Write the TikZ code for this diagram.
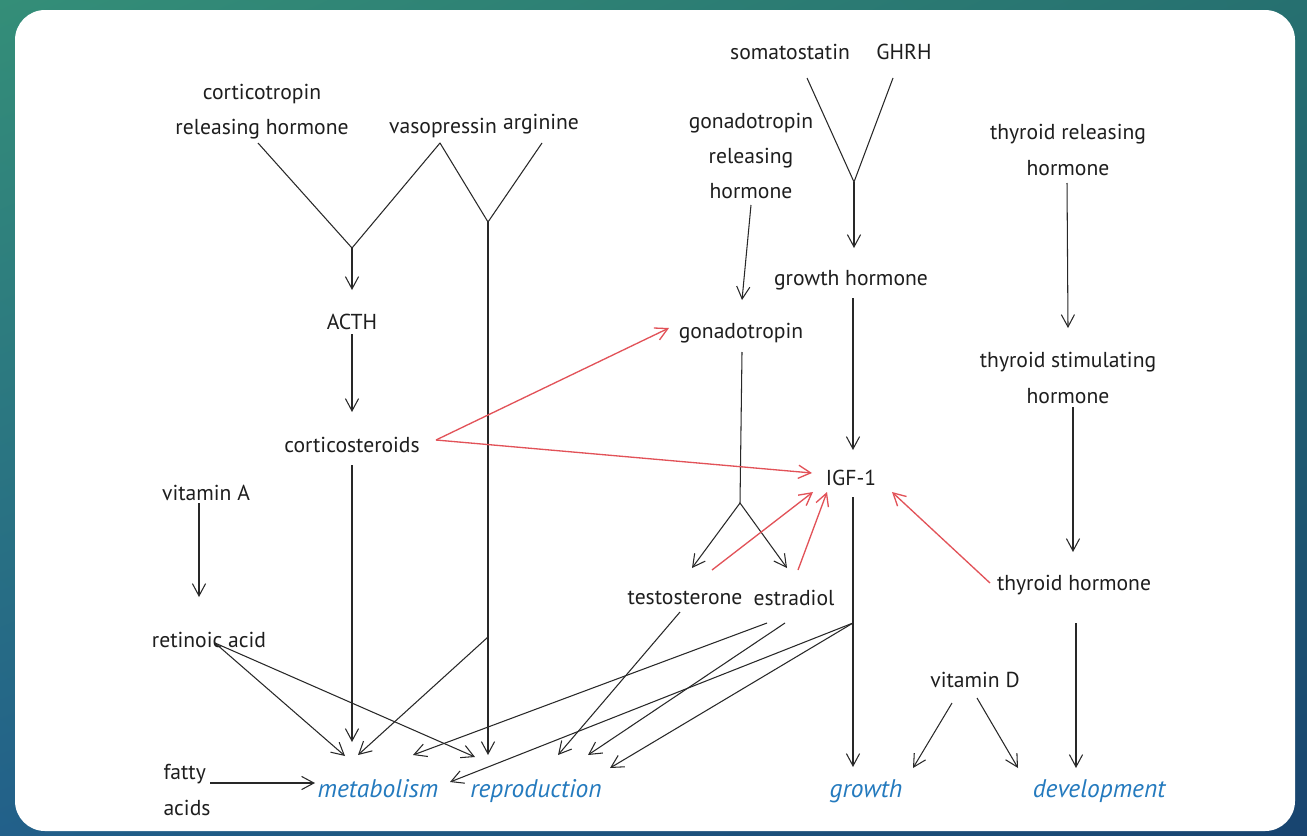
\documentclass[tikz,border=0pt]{standalone}
\usepackage{fontspec}
\setmainfont{PT Sans}
\usepackage{tikz}
\usetikzlibrary{arrows.meta,calc,shadings}
\definecolor{hbblack}{RGB}{30,30,30}
\definecolor{hbline}{RGB}{40,40,40}
\definecolor{hbred}{RGB}{226,82,88}
\definecolor{hbblue}{RGB}{36,122,190}
\definecolor{bgtl}{RGB}{52,142,120}
\definecolor{bgtr}{RGB}{38,112,112}
\definecolor{bgbl}{RGB}{34,96,138}
\definecolor{bgbr}{RGB}{24,68,112}
\tikzstyle{lbl} = [font=\fontsize{12.3}{20}\selectfont, text=hbblack, align=center, inner sep=1pt]
\tikzstyle{outcome} = [font=\fontsize{14.5}{16}\selectfont\itshape, text=hbblue, inner sep=0pt, text height=12pt, text depth=0.7pt]
\tikzstyle{link} = [draw=hbline, line width=0.6pt, line join=round]
\tikzstyle{arrow} = [link, ->, >={Straight Barb[length=7pt,width=7.5pt]}]
\tikzstyle{redarrow} = [arrow, draw=hbred, line width=0.75pt]

\begin{document}
\begin{tikzpicture}[x=0.02cm, y=-0.02cm]
\useasboundingbox (0,0) rectangle (1307,835);
% Backdrop and panel
\shade[upper left=bgtl, upper right=bgtr, lower left=bgbl, lower right=bgbr] (0,0) rectangle (1307,835);
\fill[white, rounded corners=0.6cm] (15,10) rectangle (1295,831);

% Hormones
\node[lbl] (crh) at (262,112) {corticotropin\\releasing hormone};
\node[lbl] (vaso) at (443,128) {vasopressin};
\node[lbl] (arg) at (541,124) {arginine};
\node[lbl] (somato) at (790,52) {somatostatin};
\node[lbl] (ghrh) at (904,52) {GHRH};
\node[lbl] (gnrh) at (751,156) {gonadotropin\\releasing\\hormone};
\node[lbl] (trh) at (1068,150) {thyroid releasing\\hormone};
\node[lbl] (acth) at (352,322) {ACTH};
\node[lbl] (gh) at (851,280) {growth hormone};
\node[lbl] (gonad) at (741,333) {gonadotropin};
\node[lbl] (tsh) at (1068,378) {thyroid stimulating\\hormone};
\node[lbl] (cort) at (352,445) {corticosteroids};
\node[lbl] (igf) at (851,478) {IGF-1};
\node[lbl] (vitA) at (206,493) {vitamin A};
\node[lbl] (testo) at (685,598) {testosterone};
\node[lbl] (estr) at (794,598) {estradiol};
\node[lbl] (th) at (1074,585) {thyroid hormone};
\node[lbl] (retin) at (209,640) {retinoic acid};
\node[lbl] (vitD) at (975,680) {vitamin D};
\node[lbl, align=left] (fatty) at (187,790) {fatty\\acids};

% Outcomes
\node[outcome] (metab) at (378,788) {metabolism};
\node[outcome] (repro) at (536,788) {reproduction};
\node[outcome] (growth) at (866,788) {growth};
\node[outcome] (devel) at (1099,788) {development};

% Junctions
\coordinate (vCRH) at (352,248);
\coordinate (vVA) at (488,222);
\coordinate (vGH) at (854,182);
\coordinate (vGN) at (740,503);
\coordinate (brVA) at (488,637);
\coordinate (brIGF) at (853,623);

% Left pathways
\draw[link] ($(crh)+(-4,31)$) -- (vCRH) -- ($(vaso)+(-3,15)$) -- (vVA) -- ($(arg)+(1,19)$);
\draw[arrow] (vCRH) -- ($(acth)+(0,-32)$);
\draw[arrow] ($(acth)+(0,12)$) -- ($(cort)+(0,-33)$);
\draw[arrow] ($(cort)+(0,20)$) -- ($(metab)+(-26,-46)$);
\draw[arrow] (vVA) -- ($(repro)+(-48,-33)$);
\draw[arrow] (brVA) -- ($(metab)+(-20,-33)$);
\draw[arrow] ($(vitA)+(-7,10)$) -- ($(retin)+(-10,-43)$);
\draw[arrow] ($(retin)+(6,3)$) -- ($(metab)+(-33,-32)$);
\draw[arrow] ($(retin)+(6,3)$) -- ($(repro)+(-61,-31)$);
\draw[arrow] ($(fatty)+(23,-7)$) -- ($(metab)+(-63,-5)$);

% Gonadal and growth axis
\draw[arrow] ($(gnrh)+(0,49)$) -- ($(gonad)+(1,-33)$);
\draw[link] ($(gonad)+(1,19)$) -- (vGN);
\draw[arrow] (vGN) -- ($(testo)+(7,-30)$);
\draw[arrow] (vGN) -- ($(estr)+(-7,-30)$);
\draw[link] ($(somato)+(17,26)$) -- (vGH) -- ($(ghrh)+(-11,26)$);
\draw[arrow] (vGH) -- ($(gh)+(3,-32)$);
\draw[arrow] ($(gh)+(2,18)$) -- ($(igf)+(2,-28)$);
\draw[arrow] ($(igf)+(2,19)$) -- ($(growth)+(-13,-21)$);
\draw[arrow] ($(testo)+(-5,14)$) -- ($(repro)+(22,-33)$);
\draw[arrow] ($(estr)+(-27,25)$) -- ($(metab)+(35,-33)$);
\draw[arrow] ($(estr)+(-9,25)$) -- ($(repro)+(52,-33)$);
\draw[arrow] (brIGF) -- ($(metab)+(72,-6)$);
\draw[arrow] (brIGF) -- ($(repro)+(74,-20)$);

% Thyroid axis and vitamin D
\draw[arrow] ($(trh)+(-1,33)$) -- ($(tsh)+(0,-50)$);
\draw[arrow] ($(tsh)+(5,29)$) -- ($(th)+(-1,-33)$);
\draw[arrow] ($(th)+(2,38)$) -- ($(devel)+(-23,-20)$);
\draw[arrow] ($(vitD)+(-23,23)$) -- ($(growth)+(47,-20)$);
\draw[arrow] ($(vitD)+(2,18)$) -- ($(devel)+(-81,-20)$);

% Red feedback links
\draw[redarrow] ($(cort)+(84,-5)$) -- ($(gonad)+(-72,-5)$);
\draw[redarrow] ($(cort)+(84,-5)$) -- ($(igf)+(-39,-5)$);
\draw[redarrow] ($(testo)+(27,-28)$) -- ($(igf)+(-38,14)$);
\draw[redarrow] ($(estr)+(4,-28)$) -- ($(igf)+(-24,14)$);
\draw[redarrow] ($(th)+(-84,-2)$) -- ($(igf)+(41,14)$);
\end{tikzpicture}
\end{document}
